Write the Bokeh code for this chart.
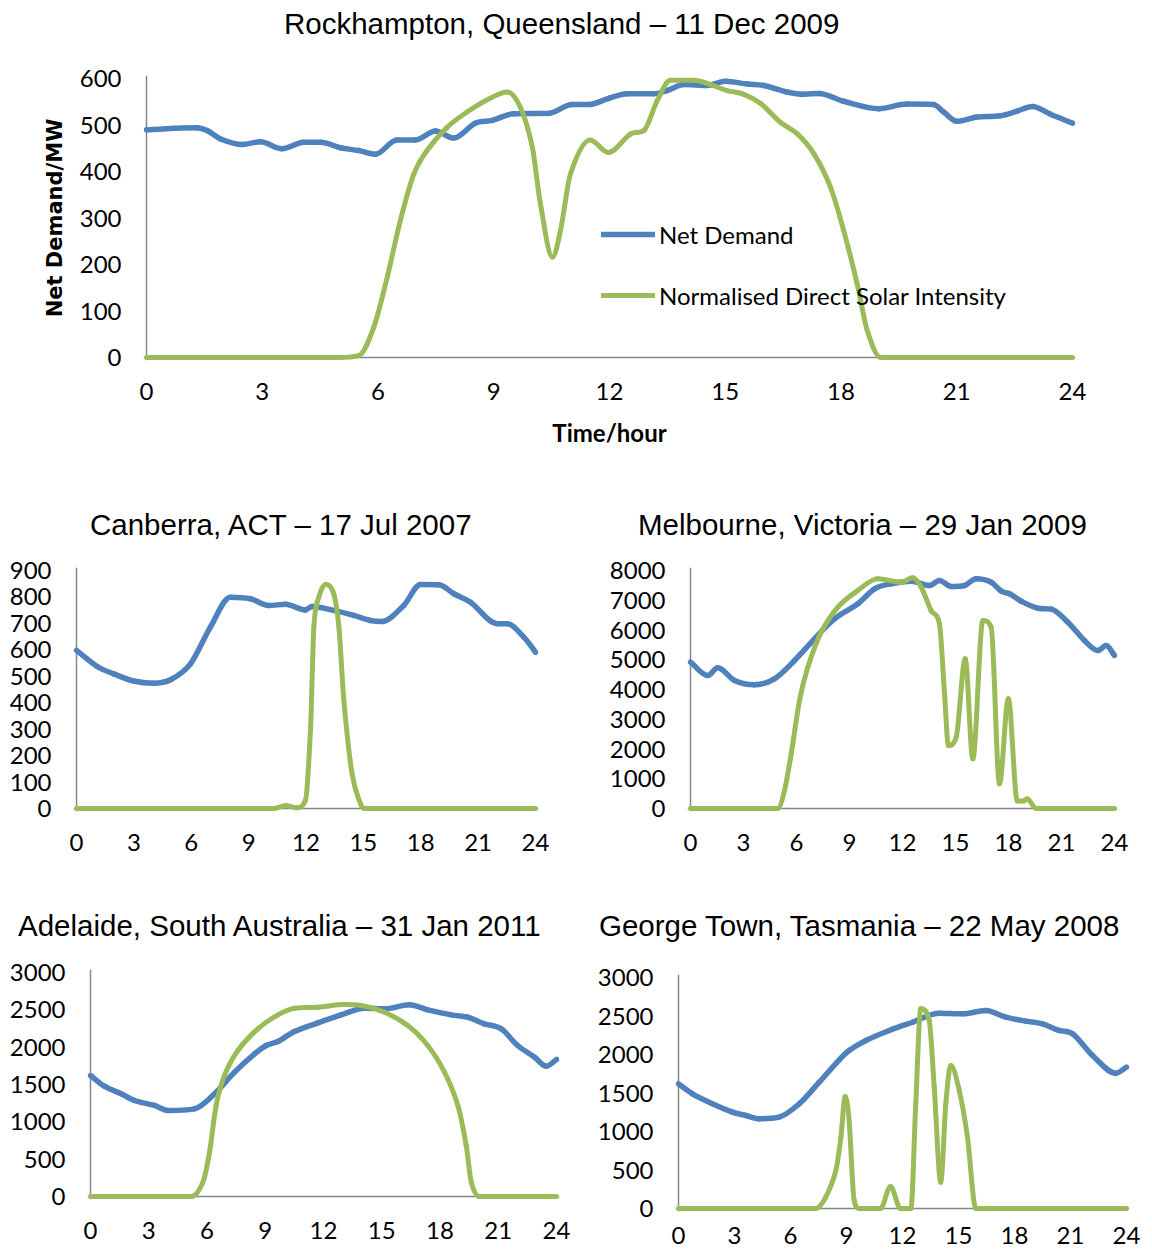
from bokeh.plotting import figure
from bokeh.layouts import column, row
from bokeh.models import Range1d, FixedTicker, Legend, LegendItem, Span, ColumnDataSource, Div
from bokeh.embed import file_html
from bokeh.resources import INLINE

# ---------------------------------------------------------------- data
# hours of day and values (MW for demand, scaled intensity for solar)
hour_ticks = [0, 3, 6, 9, 12, 15, 18, 21, 24]

rock_demand_h = [0, 1.3, 1.57, 1.92, 2.48, 2.95, 3.51, 4.08, 4.51, 5.03, 5.5, 5.93, 6.49, 6.97,
                 7.49, 7.96, 8.52, 8.96, 9.52, 10.43, 11.03, 11.46, 12.0, 12.46, 13.14, 13.49,
                 13.93, 14.53, 15.01, 15.57, 16.0, 16.6, 17.04, 17.43, 18.07, 18.98, 19.71,
                 20.4, 20.66, 21.0, 21.52, 22.13, 22.57, 22.96, 23.43, 24.0]
rock_demand = [490, 494, 488, 470, 458, 464, 449, 463, 463, 451, 445, 437, 468, 468,
               487, 472, 504, 510, 524, 525, 544, 544, 558, 567, 567, 574,
               587, 585, 594, 588, 585, 571, 566, 568, 551, 535, 545,
               544, 528, 508, 517, 520, 530, 540, 523, 504]
rock_solar_h = [0, 5.0, 5.5, 5.89, 6.24, 6.58, 6.93, 7.27, 7.79, 8.31, 8.92, 9.35, 9.69, 10.0,
                10.21, 10.52, 10.73, 10.99, 11.5, 11.97, 12.55, 12.89, 13.24, 13.58, 14.19,
                14.62, 15.05, 15.48, 15.92, 16.43, 16.87, 17.3, 17.73, 18.07, 18.42, 18.68,
                19.03, 24]
rock_solar = [0, 0, 4, 65, 173, 295, 395, 445, 495, 528, 558, 571, 538, 452,
              330, 216, 273, 395, 468, 441, 481, 488, 553, 596, 596,
              587, 574, 566, 546, 506, 481, 438, 366, 273, 158, 58,
              0, 0]

canb_demand_h = [0, 1.08, 1.95, 2.99, 4.03, 4.92, 5.96, 7.0, 8.05, 9.1, 10.05, 10.93, 11.97,
                 12.32, 13.45, 14.5, 15.37, 15.98, 17.11, 17.99, 18.95, 19.73, 20.6, 22.0,
                 22.52, 23.39, 24.0]
canb_demand = [598, 537, 509, 482, 474, 487, 547, 686, 799, 793, 768, 772, 751,
               764, 749, 730, 711, 707, 768, 847, 846, 812, 780, 699,
               699, 648, 591]
canb_solar_h = [0, 10.3, 10.93, 11.5, 11.97, 12.24, 12.41, 12.67, 13.02, 13.45, 13.72, 13.98,
                14.41, 14.85, 15.05, 24]
canb_solar = [0, 0, 11, 3, 30, 307, 686, 799, 847, 812, 686, 408,
              131, 18, 0, 0]

melb_demand_h = [0, 0.98, 1.54, 2.49, 3.62, 4.75, 5.89, 7.02, 8.15, 9.47, 10.42, 11.36, 12.49,
                 13.53, 14.09, 14.76, 15.51, 16.17, 17.02, 17.59, 18.06, 18.72, 19.66, 20.42,
                 21.36, 22.3, 23.06, 23.53, 24.0]
melb_demand = [4918, 4471, 4729, 4303, 4157, 4359, 4975, 5703, 6375, 6880, 7384, 7552, 7640,
               7496, 7664, 7462, 7496, 7720, 7608, 7305, 7216, 6968, 6733, 6700,
               6263, 5647, 5311, 5479, 5143]
melb_solar_h = [0, 4.94, 5.32, 5.7, 6.17, 6.64, 7.4, 8.34, 9.47, 10.6, 11.93, 12.58, 13.06,
                13.62, 14.09, 14.38, 14.6, 15.04, 15.55, 15.98, 16.55, 17.02, 17.49, 17.99,
                18.5, 18.85, 19.05, 19.57, 24]
melb_solar = [0, 0, 605, 1838, 3630, 4750, 5927, 6767, 7328, 7720, 7608, 7754, 7440,
              6655, 6208, 3855, 2118, 2397, 5031, 1670, 6319, 6095, 830, 3687,
              250, 250, 330, 0, 0]

adel_demand_h = [0, 0.72, 1.58, 2.27, 3.3, 3.98, 5.36, 6.39, 7.42, 8.45, 9.05, 9.65, 10.51,
                 11.71, 12.91, 14.11, 15.14, 16.43, 17.37, 18.58, 19.43, 20.29, 21.15, 22.0,
                 22.87, 23.47, 24.0]
adel_demand = [1620, 1477, 1375, 1286, 1219, 1152, 1174, 1375, 1665, 1911, 2022, 2076, 2210,
               2326, 2433, 2522, 2513, 2567, 2500, 2433, 2401, 2313, 2246, 2022,
               1866, 1745, 1835]
adel_solar_h = [0, 5.19, 5.79, 6.13, 6.47, 6.9, 7.59, 8.62, 9.65, 10.51, 11.71, 13.08, 13.94,
                15.14, 16.34, 17.37, 18.23, 18.92, 19.35, 19.61, 20.03, 24]
adel_solar = [0, 0, 192, 593, 1219, 1620, 1955, 2246, 2433, 2522, 2535, 2571, 2558,
              2468, 2290, 2022, 1665, 1219, 683, 192, 0, 0]

geo_demand_h = [0, 0.75, 1.82, 2.89, 3.61, 4.32, 5.39, 6.47, 7.54, 8.61, 9.14, 10.04, 11.29,
                12.54, 13.96, 15.21, 16.46, 17.54, 18.61, 19.5, 20.39, 21.11, 22.18, 23.43, 24.0]
geo_demand = [1619, 1489, 1360, 1251, 1208, 1165, 1186, 1360, 1640, 1931, 2052, 2182, 2312,
              2419, 2537, 2528, 2571, 2485, 2433, 2398, 2312, 2269, 1987, 1757, 1835]
geo_solar_h = [0, 7.36, 7.89, 8.43, 8.7, 8.93, 9.14, 9.41, 9.68, 10.82, 11.36, 11.89, 12.45,
               12.71, 12.98, 13.43, 13.7, 14.05, 14.32, 14.59, 15.04, 15.48, 15.93, 24]
geo_solar = [0, 0, 147, 494, 926, 1455, 1143, 104, 0, 0, 286, 0, 0,
             1360, 2593, 2442, 1575, 342, 1360, 1857, 1532, 926, 0, 0]

# ---------------------------------------------------------------- style
BLUE = "#4F81BD"
GREEN = "#9BBB59"
AXIS_GREY = "#868686"
TICK_FONT = "Lato"
TITLE_FONT = "Liberation Sans"
DEMAND_WIDTH = 5.5
SOLAR_WIDTH = 5


def smooth_source(xs, ys):
    """Cubic Bezier segments through every point (monotone tangents), i.e. a smoothed line."""
    n = len(xs)
    slopes = [(ys[i + 1] - ys[i]) / (xs[i + 1] - xs[i]) for i in range(n - 1)]
    tang = []
    for i in range(n):
        if i == 0:
            m = slopes[0]
        elif i == n - 1:
            m = slopes[-1]
        else:
            s0, s1 = slopes[i - 1], slopes[i]
            if s0 * s1 <= 0:
                m = 0.0
            else:
                m = (ys[i + 1] - ys[i - 1]) / (xs[i + 1] - xs[i - 1])
                lim = 3 * min(abs(s0), abs(s1))
                m = max(-lim, min(lim, m))
        tang.append(m)
    d = dict(x0=[], y0=[], x1=[], y1=[], cx0=[], cy0=[], cx1=[], cy1=[])
    for i in range(n - 1):
        h = xs[i + 1] - xs[i]
        d["x0"].append(xs[i]); d["y0"].append(ys[i])
        d["x1"].append(xs[i + 1]); d["y1"].append(ys[i + 1])
        d["cx0"].append(xs[i] + h / 3); d["cy0"].append(ys[i] + tang[i] * h / 3)
        d["cx1"].append(xs[i + 1] - h / 3); d["cy1"].append(ys[i + 1] - tang[i + 1] * h / 3)
    return ColumnDataSource(d)


def title_div(text, width, height, left, center_y):
    """Chart heading set in its own strip above a panel."""
    html = ('<div style="padding-left:%dpx;padding-top:%dpx;font-family:\'%s\';'
            'font-size:29.5px;line-height:34px;white-space:nowrap;color:#000;">%s</div>'
            % (left, center_y - 17, TITLE_FONT, text))
    return Div(text=html, width=width, height=height, margin=0,
               styles={"overflow": "visible"})


def make_panel(width, height, x0, x1, y0, y1, ymax, ystep,
               demand_h, demand, solar_h, solar, xlab_standoff=22):
    """x0/x1: pixel columns of hour 0 and 24; y0/y1: pixel rows of 0 and ymax."""
    pad = 3
    ppx = (x1 - x0) / 24.0
    ppy = (y0 - y1) / float(ymax)
    left = x0 - pad
    right = width - (x1 + pad)
    top = y1 - 3
    bottom = height - (y0 + pad)

    p = figure(width=width, height=height, output_backend="svg", toolbar_location=None,
               x_range=Range1d(-pad / ppx, 24 + pad / ppx),
               y_range=Range1d(-pad / ppy, ymax + 3 / ppy),
               min_border_left=left, min_border_right=right,
               min_border_top=top, min_border_bottom=bottom)
    p.outline_line_color = None
    p.background_fill_color = "white"
    p.border_fill_color = "white"
    p.xgrid.visible = False
    p.ygrid.visible = False

    for ax in (p.xaxis[0], p.yaxis[0]):
        ax.axis_line_color = None
        ax.major_tick_line_color = None
        ax.minor_tick_line_color = None
        ax.major_tick_in = 0
        ax.major_tick_out = 0
        ax.minor_tick_in = 0
        ax.minor_tick_out = 0
        ax.major_label_text_font = TICK_FONT
        ax.major_label_text_font_size = "24px"
        ax.major_label_text_color = "black"

    p.xaxis.ticker = FixedTicker(ticks=hour_ticks)
    p.xaxis.major_label_standoff = xlab_standoff
    p.yaxis.ticker = FixedTicker(ticks=list(range(0, ymax + 1, ystep)))
    p.yaxis.major_label_standoff = 22

    # axis lines crossing at the origin
    p.add_layout(Span(location=0, dimension="width", line_color=AXIS_GREY,
                      line_width=1.5, level="underlay"))
    p.add_layout(Span(location=0, dimension="height", line_color=AXIS_GREY,
                      line_width=1.5, level="underlay"))

    r_d = p.bezier(x0="x0", y0="y0", x1="x1", y1="y1", cx0="cx0", cy0="cy0", cx1="cx1",
                   cy1="cy1", source=smooth_source(demand_h, demand), line_color=BLUE,
                   line_width=DEMAND_WIDTH, line_cap="round")
    r_s = p.bezier(x0="x0", y0="y0", x1="x1", y1="y1", cx0="cx0", cy0="cy0", cx1="cx1",
                   cy1="cy1", source=smooth_source(solar_h, solar), line_color=GREEN,
                   line_width=SOLAR_WIDTH, line_cap="round")
    return p, r_d, r_s, left, bottom


# ---------------------------------------------------------------- top panel: Rockhampton
top_title = title_div("Rockhampton, Queensland \u2013 11 Dec 2009", 1152, 50, 284, 24)
top, rd, rs, t_left, t_bottom = make_panel(1152, 410, 146, 1072, 307, 28, 600, 100,
                                           rock_demand_h, rock_demand, rock_solar_h, rock_solar)
top.yaxis.axis_label = "Net Demand/MW"
top.yaxis.axis_label_text_font = "DejaVu Sans"
top.yaxis.axis_label_text_font_style = "bold"
top.yaxis.axis_label_text_font_size = "21px"
top.yaxis.axis_label_text_color = "black"
top.yaxis.axis_label_standoff = 10
top.xaxis.axis_label = "Time/hour"
top.xaxis.axis_label_text_font = TICK_FONT
top.xaxis.axis_label_text_font_style = "bold"
top.xaxis.axis_label_text_font_size = "24px"
top.xaxis.axis_label_text_color = "black"
top.xaxis.axis_label_standoff = 15

legend = Legend(items=[LegendItem(label="Net Demand", renderers=[rd], index=0),
                       LegendItem(label="Normalised Direct Solar Intensity", renderers=[rs],
                                  index=0)],
                location=(601 - t_left, 50),
                glyph_width=54, glyph_height=30, label_height=30, spacing=31,
                padding=0, margin=0, label_standoff=4,
                border_line_color=None, background_fill_alpha=0,
                label_text_font=TICK_FONT, label_text_font_size="24px",
                label_text_color="black")
top.add_layout(legend)

# ---------------------------------------------------------------- second row
canb_title = title_div("Canberra, ACT \u2013 17 Jul 2007", 576, 95, 90, 65)
canb, *_ = make_panel(576, 330, 76, 535, 253, 15, 900, 100,
                      canb_demand_h, canb_demand, canb_solar_h, canb_solar)
melb_title = title_div("Melbourne, Victoria \u2013 29 Jan 2009", 576, 95, 62, 65)
melb, *_ = make_panel(576, 330, 114, 538, 253, 15, 8000, 1000,
                      melb_demand_h, melb_demand, melb_solar_h, melb_solar)

# ---------------------------------------------------------------- third row
adel_title = title_div("Adelaide, South Australia \u2013 31 Jan 2011", 576, 70, 18, 41)
adel, *_ = make_panel(576, 297, 90, 556, 241, 17, 3000, 500,
                      adel_demand_h, adel_demand, adel_solar_h, adel_solar)
geo_title = title_div("George Town, Tasmania \u2013 22 May 2008", 576, 70, 23, 41)
geo, *_ = make_panel(576, 297, 102, 550, 253, 22, 3000, 500,
                     geo_demand_h, geo_demand, geo_solar_h, geo_solar, xlab_standoff=15)

layout = column(top_title, top,
                row(column(canb_title, canb), column(melb_title, melb)),
                row(column(adel_title, adel), column(geo_title, geo)))

with open("out.html", "w") as f:
    f.write(file_html(layout, INLINE))
